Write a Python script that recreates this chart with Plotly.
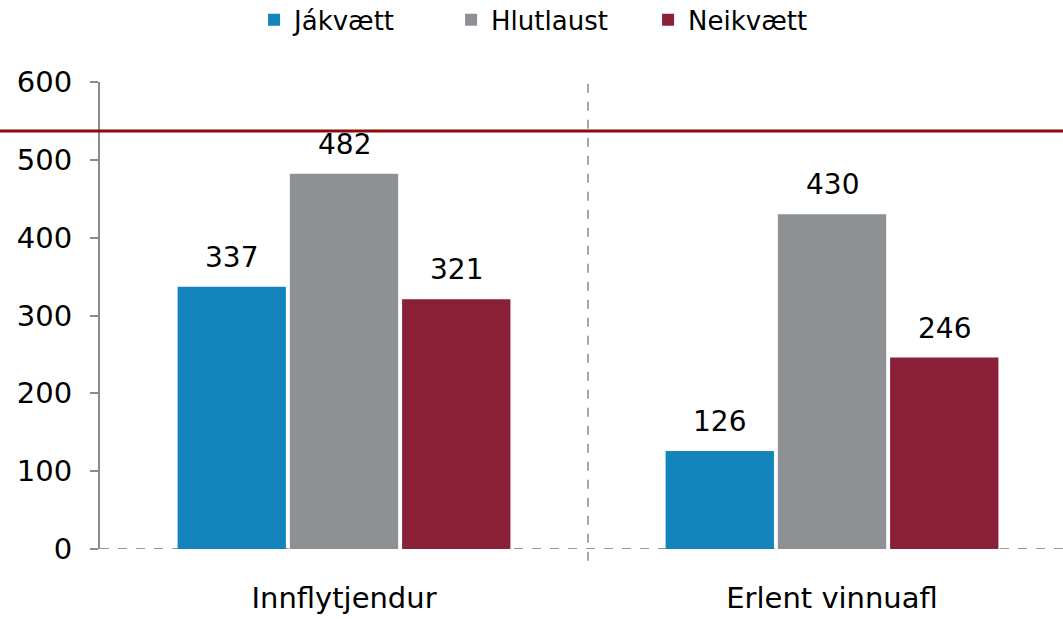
import plotly.graph_objects as go

categories = ["Innflytjendur", "Erlent vinnuafl"]
series_names = ["Jákvætt", "Hlutlaust", "Neikvætt"]
jakvaett = [337, 126]
hlutlaust = [482, 430]
neikvaett = [321, 246]
reference_value = 537
y_ticks = [0, 100, 200, 300, 400, 500, 600]

colors = ["#1485BC", "#8E9194", "#8A2035"]
values = [jakvaett, hlutlaust, neikvaett]

FONT = "DejaVu Sans"
FS = 29
BARGAP = 0.31
GROUPGAP = 0.035

x_pos = list(range(len(categories)))
fig = go.Figure()
for name, vals, col in zip(series_names, values, colors):
    fig.add_trace(go.Bar(x=x_pos, y=vals, name=name, marker=dict(color=col, line=dict(width=0))))

slot = (1 - BARGAP) / len(series_names)
annotations = []
for j, vals in enumerate(values):
    for i, v in enumerate(vals):
        annotations.append(dict(x=i + (j - (len(series_names) - 1) / 2) * slot, y=v, xref="x", yref="y",
                                text=str(v), showarrow=False, yanchor="bottom", yshift=11,
                                font=dict(family=FONT, size=28, color="#000")))

shapes = [
    dict(type="line", xref="paper", yref="y", x0=0, x1=1, y0=0, y1=0,
         line=dict(color="#999999", width=2, dash="dash"), layer="below"),
    dict(type="line", xref="x", yref="paper", x0=0.5, x1=0.5, y0=-0.025, y1=1,
         line=dict(color="#A6A6A6", width=2, dash="dash"), layer="below"),
    dict(type="line", xref="paper", yref="y", x0=-0.2, x1=1.1, y0=reference_value, y1=reference_value,
         line=dict(color="#8B0A0A", width=3), layer="above"),
]

fig.update_layout(
    width=1063, height=619,
    margin=dict(l=100, r=0, t=82, b=70, autoexpand=False),
    paper_bgcolor="white", plot_bgcolor="white",
    barmode="group", bargap=BARGAP, bargroupgap=GROUPGAP,
    font=dict(family=FONT, size=FS, color="#000"),
    showlegend=True,
    legend=dict(orientation="h", xref="container", yref="container", x=0.517, xanchor="center",
                y=0.968, yanchor="middle", font=dict(family=FONT, size=26, color="#000"),
                entrywidth=152, itemclick=False, traceorder="normal"),
    annotations=annotations,
    shapes=shapes,
)
fig.update_xaxes(range=[-0.5, 1.5 - 13 / 487], tickvals=x_pos, ticktext=categories,
                 showline=False, showgrid=False, zeroline=False, ticks="",
                 ticklabelstandoff=29, tickfont=dict(family=FONT, size=FS, color="#000"))
fig.update_yaxes(range=[0, 600], tickvals=y_ticks, showline=True, linecolor="#8C8C8C", linewidth=2,
                 ticks="outside", ticklen=8, tickcolor="#8C8C8C", tickwidth=2, showgrid=False,
                 zeroline=False, ticklabelstandoff=12, tickfont=dict(family=FONT, size=FS, color="#000"))

fig.write_html("out.html", config={"displayModeBar": False},
               post_script="document.body.style.margin='0';document.body.style.overflow='hidden';")
